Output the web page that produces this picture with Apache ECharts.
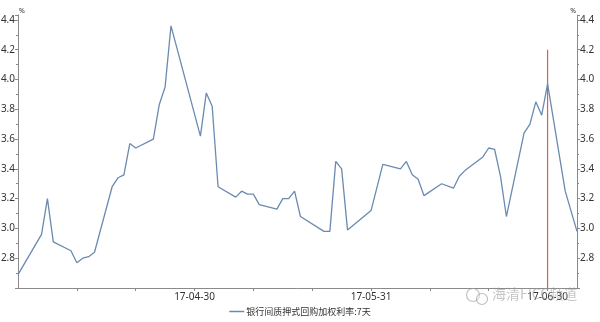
<!DOCTYPE html>
<html><head><meta charset="utf-8">
<script src="https://cdn.jsdelivr.net/npm/echarts@6/dist/echarts.min.js"></script>
<style>html,body{margin:0;padding:0;background:#fff}#c{width:600px;height:322px}</style>
</head><body><div id="c"></div>
<script>
// ---- data ----
const startDate = '2017-04-01';
const endDate = '2017-07-05';
const dates = ['2017-04-01','2017-04-05','2017-04-06','2017-04-07','2017-04-10','2017-04-11','2017-04-12','2017-04-13','2017-04-14','2017-04-17','2017-04-18','2017-04-19','2017-04-20','2017-04-21','2017-04-24','2017-04-25','2017-04-26','2017-04-27',
'2017-05-02','2017-05-03','2017-05-04','2017-05-05','2017-05-08','2017-05-09','2017-05-10','2017-05-11','2017-05-12','2017-05-15','2017-05-16','2017-05-17','2017-05-18','2017-05-19','2017-05-23','2017-05-24','2017-05-25','2017-05-26','2017-05-27','2017-05-31',
'2017-06-02','2017-06-05','2017-06-06','2017-06-07','2017-06-08','2017-06-09','2017-06-12','2017-06-14','2017-06-15','2017-06-16','2017-06-19','2017-06-20','2017-06-21','2017-06-22','2017-06-23','2017-06-26','2017-06-27','2017-06-28','2017-06-29','2017-06-30',
'2017-07-03','2017-07-05'];
const values = [2.69,2.96,3.20,2.91,2.85,2.77,2.80,2.81,2.84,3.28,3.34,3.36,3.57,3.54,3.60,3.83,3.95,4.36,
3.62,3.91,3.82,3.28,3.21,3.25,3.23,3.23,3.16,3.13,3.20,3.20,3.25,3.08,2.98,2.98,3.45,3.40,2.99,3.12,
3.43,3.40,3.45,3.36,3.33,3.22,3.30,3.27,3.35,3.39,3.48,3.54,3.53,3.35,3.08,3.64,3.70,3.85,3.76,3.97,
3.25,2.98];
const seriesName = '银行间质押式回购加权利率:7天';
const xTickStepDays = 10;
const xLabelDays = [30, 60, 90];
const xLabelTexts = ['17-04-30', '17-05-31', '17-06-30'];
const markDate = '2017-06-30';
const markRange = [4.2, 2.6];
const yMin = 2.6, yMax = 4.433, yStep = 0.2;
const watermarkText = '海清FICC频道';

function dayOffset(s) {
  const a = s.split('-').map(Number), b = startDate.split('-').map(Number);
  return Math.round((Date.UTC(a[0], a[1] - 1, a[2]) - Date.UTC(b[0], b[1] - 1, b[2])) / 86400000);
}
const seriesData = dates.map((d, i) => [dayOffset(d), values[i]]);
const markDay = dayOffset(markDate);
const markData = markRange.map(v => [markDay, v]);

const axisGray = '#8a8a8a';
const txt = '#333';
const font = 'Noto Sans, Noto Sans CJK SC, sans-serif';
const markRed = '#dc5a5a';

function yAxisCfg(pos) {
  return {
    type: 'value', position: pos, min: yMin, max: yMax, interval: yStep,
    name: '%', nameLocation: 'end', nameGap: 1,
    nameTextStyle: { fontSize: 7, color: txt, align: pos === 'left' ? 'left' : 'right', padding: pos === 'left' ? [0, 0, 0, 1] : [0, 1, 0, 0], fontFamily: font },
    axisLine: { show: true, lineStyle: { color: axisGray, width: 1 } },
    axisTick: { show: true, length: 3, lineStyle: { color: axisGray } },
    minorTick: { show: true, splitNumber: 2, length: 2, lineStyle: { color: axisGray } },
    splitLine: { show: false },
    axisLabel: { fontSize: 10, color: txt, margin: 3, showMinLabel: false, showMaxLabel: false, fontFamily: font,
      formatter: v => v.toFixed(1) }
  };
}

const chart = echarts.init(document.getElementById('c'), null, { renderer: 'canvas' });
chart.setOption({
  animation: false,
  backgroundColor: '#fff',
  grid: { left: 18, right: 23, top: 15, bottom: 34, containLabel: false, outerBoundsMode: 'none' },
  xAxis: {
    type: 'value', min: 0, max: dayOffset(endDate), interval: xTickStepDays,
    axisLine: { show: true, lineStyle: { color: axisGray, width: 1 } },
    axisTick: { show: true, length: 3, lineStyle: { color: axisGray } },
    splitLine: { show: false },
    axisLabel: { fontSize: 10, color: txt, margin: 4, showMinLabel: false, showMaxLabel: false, fontFamily: font,
      formatter: v => { const i = xLabelDays.indexOf(v); return i >= 0 ? xLabelTexts[i] : ''; } }
  },
  yAxis: [yAxisCfg('left'), yAxisCfg('right')],
  legend: {
    bottom: 1, left: 'center', icon: 'rect', itemWidth: 15, itemHeight: 1.5, itemGap: 10,
    textStyle: { fontSize: 9, color: txt, fontFamily: 'Noto Sans CJK SC, sans-serif', padding: [0, 0, 0, -3] },
    data: [seriesName]
  },
  graphic: [
    { type: 'circle', z: 100, silent: true, shape: { cx: 473, cy: 295, r: 6.5 },
      style: { fill: 'rgba(255,255,255,0.4)', stroke: 'rgba(150,150,150,0.6)', lineWidth: 1.2 } },
    { type: 'circle', z: 100, silent: true, shape: { cx: 482, cy: 299, r: 5.5 },
      style: { fill: 'rgba(255,255,255,0.4)', stroke: 'rgba(150,150,150,0.6)', lineWidth: 1.2 } },
    { type: 'text', left: 492, top: 287, z: 100, silent: true,
      style: { text: watermarkText, fontSize: 14, fill: 'rgba(150,150,150,0.55)', fontFamily: 'Noto Sans CJK SC, sans-serif' } }
  ],
  series: [{
    name: seriesName, type: 'line', yAxisIndex: 0, data: seriesData,
    showSymbol: false, symbol: 'none', z: 3,
    lineStyle: { color: '#6a8ab0', width: 1.3 },
    itemStyle: { color: '#6a8ab0' }
  }, {
    name: 'mark', type: 'line', yAxisIndex: 0, data: markData,
    showSymbol: false, symbol: 'none', silent: true, z: 2,
    lineStyle: { color: markRed, width: 1.2 },
    itemStyle: { color: markRed }
  }]
});
</script></body></html>
